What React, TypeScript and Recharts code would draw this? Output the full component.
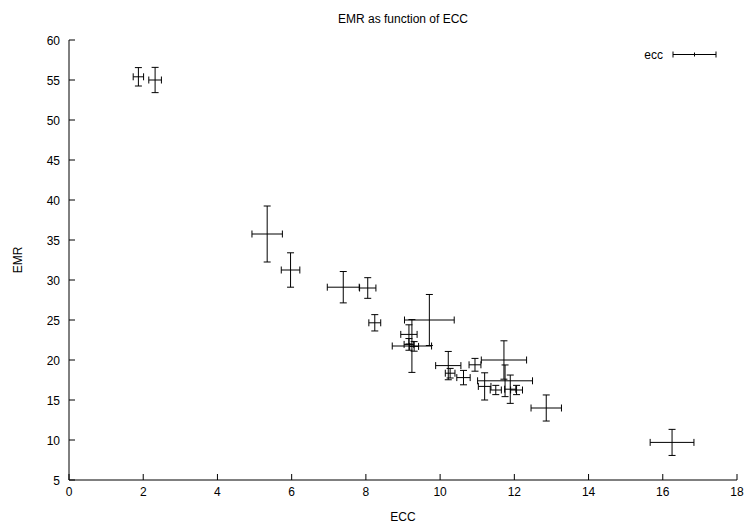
import { ErrorBar, Legend, Scatter, ScatterChart, XAxis, YAxis } from "recharts";

// values
const ecc = [1.87, 2.32, 5.34, 5.97, 7.39, 8.05, 8.24, 9.71, 9.24, 9.16, 9.16, 9.3, 10.22, 10.27, 10.63, 10.94, 11.2, 11.5, 11.72, 11.75, 11.89, 12.06, 12.86, 16.25];
const emr = [55.4, 55.0, 35.75, 31.25, 29.1, 29.0, 24.65, 25.0, 21.75, 23.2, 21.95, 21.7, 19.3, 18.35, 17.8, 19.4, 16.7, 16.25, 20.0, 17.4, 16.35, 16.25, 14.0, 9.7];
const eccErr = [0.14, 0.17, 0.41, 0.25, 0.43, 0.22, 0.16, 0.67, 0.53, 0.22, 0.13, 0.12, 0.34, 0.13, 0.18, 0.16, 0.17, 0.15, 0.61, 0.74, 0.15, 0.16, 0.41, 0.59];
const emrErr = [1.15, 1.58, 3.5, 2.15, 1.96, 1.29, 1.02, 3.19, 3.3, 1.2, 0.73, 0.6, 1.77, 0.6, 0.9, 0.8, 1.7, 0.58, 2.4, 1.98, 1.77, 0.58, 1.63, 1.63];

const xTicks = [0, 2, 4, 6, 8, 10, 12, 14, 16, 18];
const yTicks = [5, 10, 15, 20, 25, 30, 35, 40, 45, 50, 55, 60];

const data = ecc.map((x, i) => ({ x, y: emr[i], xe: eccErr[i], ye: emrErr[i] }));

const FONT = "'Liberation Sans', Arial, sans-serif";
const TICK = 6;

const BottomTick = (p: any) => (
  <g>
    <line x1={p.x} y1={p.y} x2={p.x} y2={p.y - TICK} stroke="#000" />
    <text x={p.x} y={p.y + 16} textAnchor="middle" fontSize={12} fontFamily={FONT} fill="#000">
      {p.payload.value}
    </text>
  </g>
);

const LeftTick = (p: any) => (
  <g>
    <line x1={p.x} y1={p.y} x2={p.x + TICK} y2={p.y} stroke="#000" />
    <text x={p.x - 9} y={p.y + 4.5} textAnchor="end" fontSize={12} fontFamily={FONT} fill="#000">
      {p.payload.value}
    </text>
  </g>
);

const TopTick = (p: any) => <line x1={p.x} y1={p.y} x2={p.x} y2={p.y + TICK} stroke="#000" />;
const RightTick = (p: any) => <line x1={p.x} y1={p.y} x2={p.x - TICK} y2={p.y} stroke="#000" />;

const LegendBox = ({ payload }: any) => (
  <svg width={110} height={16} style={{ display: "block" }}>
    <text x={43} y={12.5} textAnchor="end" fontSize={12} fontFamily={FONT} fill="#000">
      {payload?.[0]?.value ?? "ecc"}
    </text>
    <line x1={53} y1={8.5} x2={96} y2={8.5} stroke="#000" />
    <line x1={53} y1={5.5} x2={53} y2={11.5} stroke="#000" />
    <line x1={96} y1={5.5} x2={96} y2={11.5} stroke="#000" />
    <line x1={74.5} y1={6.5} x2={74.5} y2={10.5} stroke="#000" />
  </svg>
);

export default function App() {
  return (
    <div style={{ position: "absolute", left: 0, top: 0, width: 745, height: 527, background: "#fff" }}>
      <div
        style={{
          position: "absolute",
          left: 69,
          width: 668,
          top: 11,
          textAlign: "center",
          fontFamily: FONT,
          fontSize: 12,
          lineHeight: "16px",
        }}
      >
        EMR as function of ECC
      </div>
      <ScatterChart width={745} height={527} margin={{ top: 40, right: 8, bottom: 17, left: 0 }}>
        <XAxis
          xAxisId="b"
          type="number"
          dataKey="x"
          domain={[0, 18]}
          ticks={xTicks}
          allowDataOverflow
          height={30}
          tickSize={0}
          tickMargin={0}
          tickLine={false}
          axisLine={{ stroke: "#000" }}
          tick={BottomTick}
          label={{
            content: ({ viewBox }: any) => (
              <text x={viewBox.x + viewBox.width / 2} y={viewBox.y + 41} textAnchor="middle" fontSize={12} fontFamily={FONT} fill="#000">
                ECC
              </text>
            ),
          }}
        />
        <XAxis
          xAxisId="t"
          orientation="top"
          type="number"
          domain={[0, 18]}
          ticks={xTicks.slice(1, -1)}
          allowDataOverflow
          height={0}
          tickSize={0}
          tickMargin={0}
          tickLine={false}
          axisLine={{ stroke: "#000" }}
          tick={TopTick}
        />
        <YAxis
          yAxisId="l"
          type="number"
          dataKey="y"
          domain={[5, 60]}
          ticks={yTicks}
          allowDataOverflow
          width={69}
          tickSize={0}
          tickMargin={0}
          tickLine={false}
          axisLine={{ stroke: "#000" }}
          tick={LeftTick}
          label={{
            content: ({ viewBox }: any) => {
              const cx = viewBox.x + 18;
              const cy = viewBox.y + viewBox.height / 2;
              return (
                <text x={cx} y={cy} transform={`rotate(-90 ${cx} ${cy})`} dy={4} textAnchor="middle" fontSize={12} fontFamily={FONT} fill="#000">
                  EMR
                </text>
              );
            },
          }}
        />
        <YAxis
          yAxisId="r"
          orientation="right"
          type="number"
          domain={[5, 60]}
          ticks={yTicks.slice(1, -1)}
          allowDataOverflow
          width={0}
          tickSize={0}
          tickMargin={0}
          tickLine={false}
          axisLine={{ stroke: "#000" }}
          tick={RightTick}
        />
        <Legend
          layout="horizontal"
          verticalAlign="middle"
          align="center"
          content={<LegendBox />}
          wrapperStyle={{ left: 620, top: 46, width: 110 }}
        />
        <Scatter
          name="ecc"
          data={data}
          xAxisId="b"
          yAxisId="l"
          isAnimationActive={false}
          shape={() => <g />}
        >
          <ErrorBar dataKey="xe" direction="x" width={3.5} stroke="#000" strokeWidth={1} isAnimationActive={false} />
          <ErrorBar dataKey="ye" direction="y" width={3.5} stroke="#000" strokeWidth={1} isAnimationActive={false} />
        </Scatter>
      </ScatterChart>
    </div>
  );
}
